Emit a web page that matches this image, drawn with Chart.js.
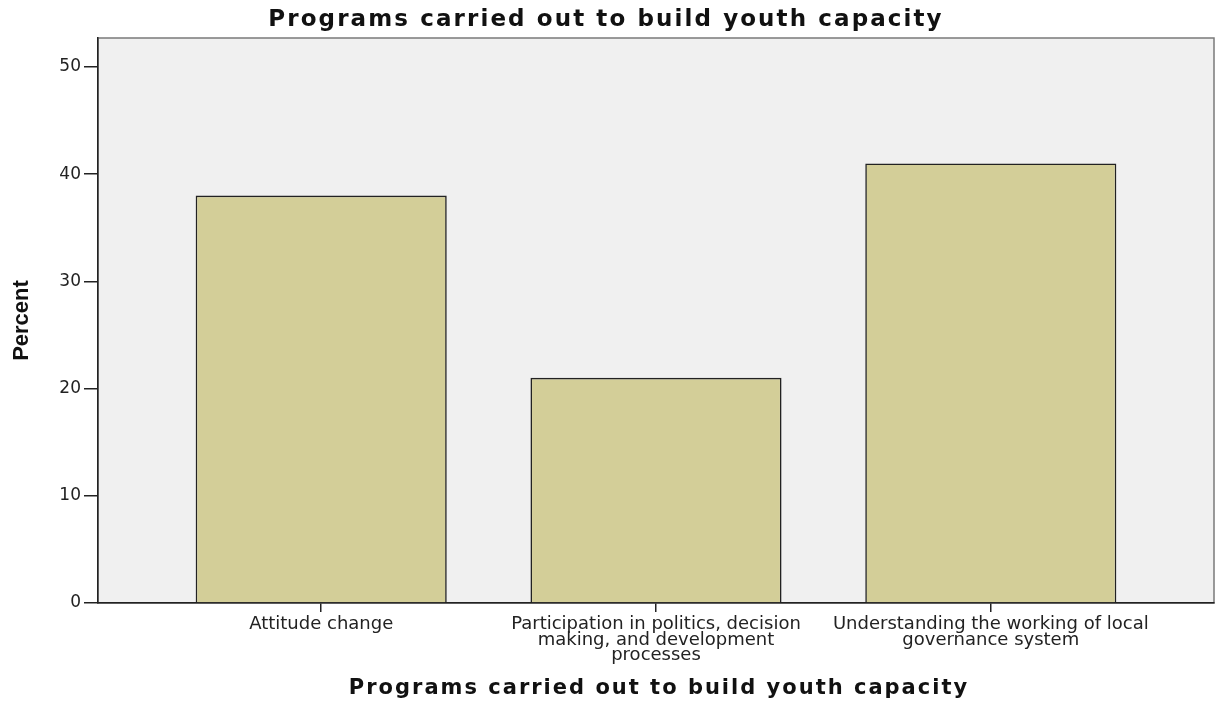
<!DOCTYPE html>
<html>
<head>
<meta charset="utf-8">
<script src="https://cdn.jsdelivr.net/npm/chart.js@4.4.1/dist/chart.umd.min.js"></script>
<style>
  html, body { margin: 0; padding: 0; background: #fff; }
</style>
</head>
<body>
<canvas id="chart" width="1222" height="704"></canvas>
<script>
// data
const categories = ["Attitude change", "Participation in politics, decision making, and development processes", "Understanding the working of local governance system"];
const tickLabels = [
  ["Attitude change"],
  ["Participation in politics, decision", "making, and development", "processes"],
  ["Understanding the working of local", "governance system"]
];
const percents = [38, 21, 41];
const yTicks = [0, 10, 20, 30, 40, 50];

const titleText = "Programs carried out to build youth capacity";

// grey plot panel with a thin frame, drawn before the axes
const panel = {
  id: 'panel',
  beforeDraw(chart) {
    const { ctx, chartArea: a } = chart;
    ctx.save();
    ctx.fillStyle = '#f0f0f0';
    ctx.fillRect(a.left, a.top, a.right - a.left, a.bottom - a.top);
    ctx.strokeStyle = '#7a7a7a';
    ctx.lineWidth = 1.5;
    ctx.strokeRect(a.left, a.top, a.right - a.left, a.bottom - a.top);
    ctx.restore();
  }
};

// the two titles are spread out a little, like the wide text of the original
const titles = {
  id: 'titles',
  afterDraw(chart) {
    const { ctx, chartArea: a } = chart;
    ctx.save();
    ctx.fillStyle = '#111';
    ctx.textAlign = 'center';
    ctx.textBaseline = 'middle';
    ctx.letterSpacing = '2.1px';
    ctx.font = 'bold 23px "DejaVu Sans"';
    ctx.fillText(titleText, chart.width / 2 - 5, 20);
    ctx.letterSpacing = '2px';
    ctx.font = 'bold 21px "DejaVu Sans"';
    ctx.fillText(titleText, (a.left + a.right) / 2 + 3, 689);
    ctx.restore();
  }
};

const ctx = document.getElementById('chart');

new Chart(ctx, {
  type: 'bar',
  plugins: [panel, titles],
  data: {
    datasets: [{
      label: 'Percent',
      data: percents.map((v, i) => ({ x: i, y: v })),
      backgroundColor: '#d3ce98',
      borderColor: '#222',
      borderWidth: 1.6,
      barPercentage: 0.75,
      categoryPercentage: 1
    }]
  },
  options: {
    responsive: false,
    animation: false,
    layout: { padding: { left: 0, right: 8, top: 38, bottom: 0 } },
    plugins: {
      legend: { display: false },
      tooltip: { enabled: false },
      title: { display: false }
    },
    scales: {
      x: {
        type: 'linear',
        min: -2 / 3,
        max: 8 / 3,
        offset: false,
        afterFit: (s) => { s.height = 101; },
        afterBuildTicks: (s) => { s.ticks = categories.map((c, i) => ({ value: i })); },
        border: { display: true, color: '#222', width: 1.5 },
        grid: { display: true, offset: false, drawOnChartArea: false, drawTicks: true, tickLength: 9, color: '#222', lineWidth: 1.5 },
        ticks: {
          color: '#222',
          padding: 5,
          maxRotation: 0,
          autoSkip: false,
          font: { family: 'DejaVu Sans', size: 18, lineHeight: '15.5px' },
          callback: (v) => tickLabels[v]
        },
        title: { display: false }
      },
      y: {
        min: 0,
        max: 52.7,
        afterFit: (s) => { s.width = 98; },
        afterBuildTicks: (s) => { s.ticks = yTicks.map(v => ({ value: v })); },
        border: { display: true, color: '#222', width: 1.5 },
        grid: { display: true, drawOnChartArea: false, drawTicks: true, tickLength: 14, color: '#222', lineWidth: 1.5 },
        ticks: {
          color: '#222',
          padding: 3,
          font: { family: 'DejaVu Sans', size: 17 }
        },
        title: {
          display: true,
          text: 'Percent',
          color: '#111',
          font: { family: 'Liberation Sans', size: 22, weight: 'bold' },
          padding: { top: 9, bottom: 0 }
        }
      }
    }
  }
});
</script>
</body>
</html>
